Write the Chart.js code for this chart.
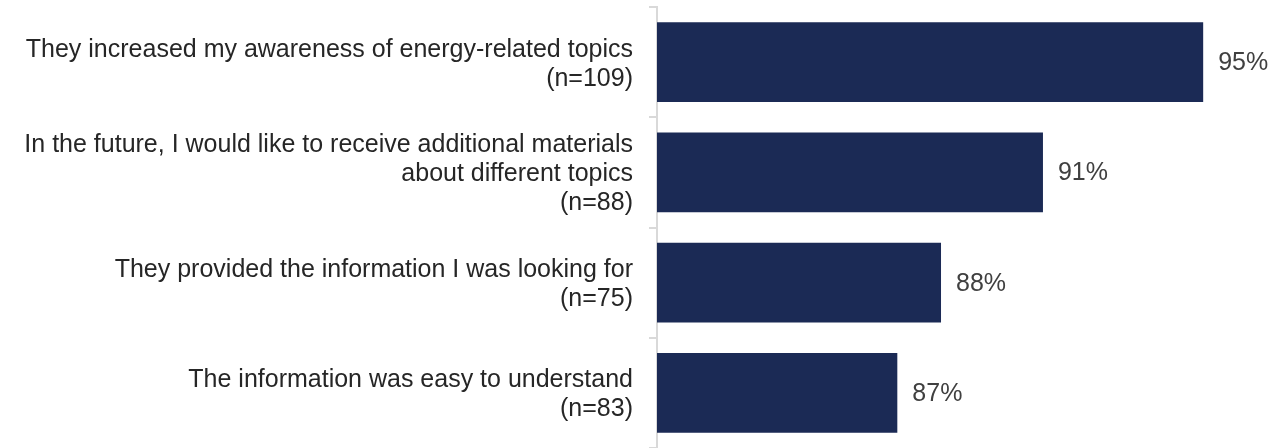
<!DOCTYPE html>
<html>
<head>
<meta charset="utf-8">
<script src="https://cdn.jsdelivr.net/npm/chart.js@4.4.1/dist/chart.umd.min.js"></script>
<style>
  html, body { margin: 0; padding: 0; background: #fff; }
  #wrap { width: 1276px; height: 448px; }
</style>
</head>
<body>
<div id="wrap"><canvas id="myChart"></canvas></div>
<script>
const categories = [
    ['They increased my awareness of energy-related topics', '(n=109)'],
    ['In the future, I would like to receive additional materials', 'about different topics', '(n=88)'],
    ['They provided the information I was looking for', '(n=75)'],
    ['The information was easy to understand', '(n=83)']
];
const agreeShare = [95, 90.6, 87.8, 86.6];

const valueLabels = {
    id: 'valueLabels',
    afterDatasetsDraw(chart) {
        const ctx = chart.ctx;
        const meta = chart.getDatasetMeta(0);
        ctx.save();
        ctx.font = '25px "Liberation Sans", Arial, sans-serif';
        ctx.fillStyle = '#404040';
        ctx.textAlign = 'left';
        ctx.textBaseline = 'middle';
        meta.data.forEach((bar, i) => {
            ctx.fillText(Math.round(agreeShare[i]) + '%', bar.x + 15, bar.y + 1);
        });
        ctx.restore();
    }
};

const ctx = document.getElementById('myChart');
new Chart(ctx, {
    type: 'bar',
    data: {
        labels: categories,
        datasets: [{
            data: agreeShare,
            backgroundColor: '#1b2a55',
            barPercentage: 0.724,
            categoryPercentage: 1
        }]
    },
    options: {
        indexAxis: 'y',
        responsive: true,
        maintainAspectRatio: false,
        animation: false,
        layout: { padding: { top: 7, bottom: 0, left: 0, right: 0 } },
        plugins: {
            legend: { display: false },
            tooltip: { enabled: false }
        },
        scales: {
            x: {
                display: false,
                min: 80,
                max: 97
            },
            y: {
                afterFit(scale) {
                    scale.width = 657;
                    scale.paddingTop = 0;
                    scale.paddingBottom = 0;
                },
                grid: {
                    drawOnChartArea: false,
                    drawTicks: true,
                    tickLength: 8,
                    color: '#d9d9d9',
                    lineWidth: 2
                },
                border: { display: true, color: '#d9d9d9', width: 2 },
                ticks: {
                    padding: 16,
                    labelOffset: 2,
                    color: '#262626',
                    font: { family: '"Liberation Sans", Arial, sans-serif', size: 25, lineHeight: 1.16 }
                }
            }
        }
    },
    plugins: [valueLabels]
});
</script>
</body>
</html>
